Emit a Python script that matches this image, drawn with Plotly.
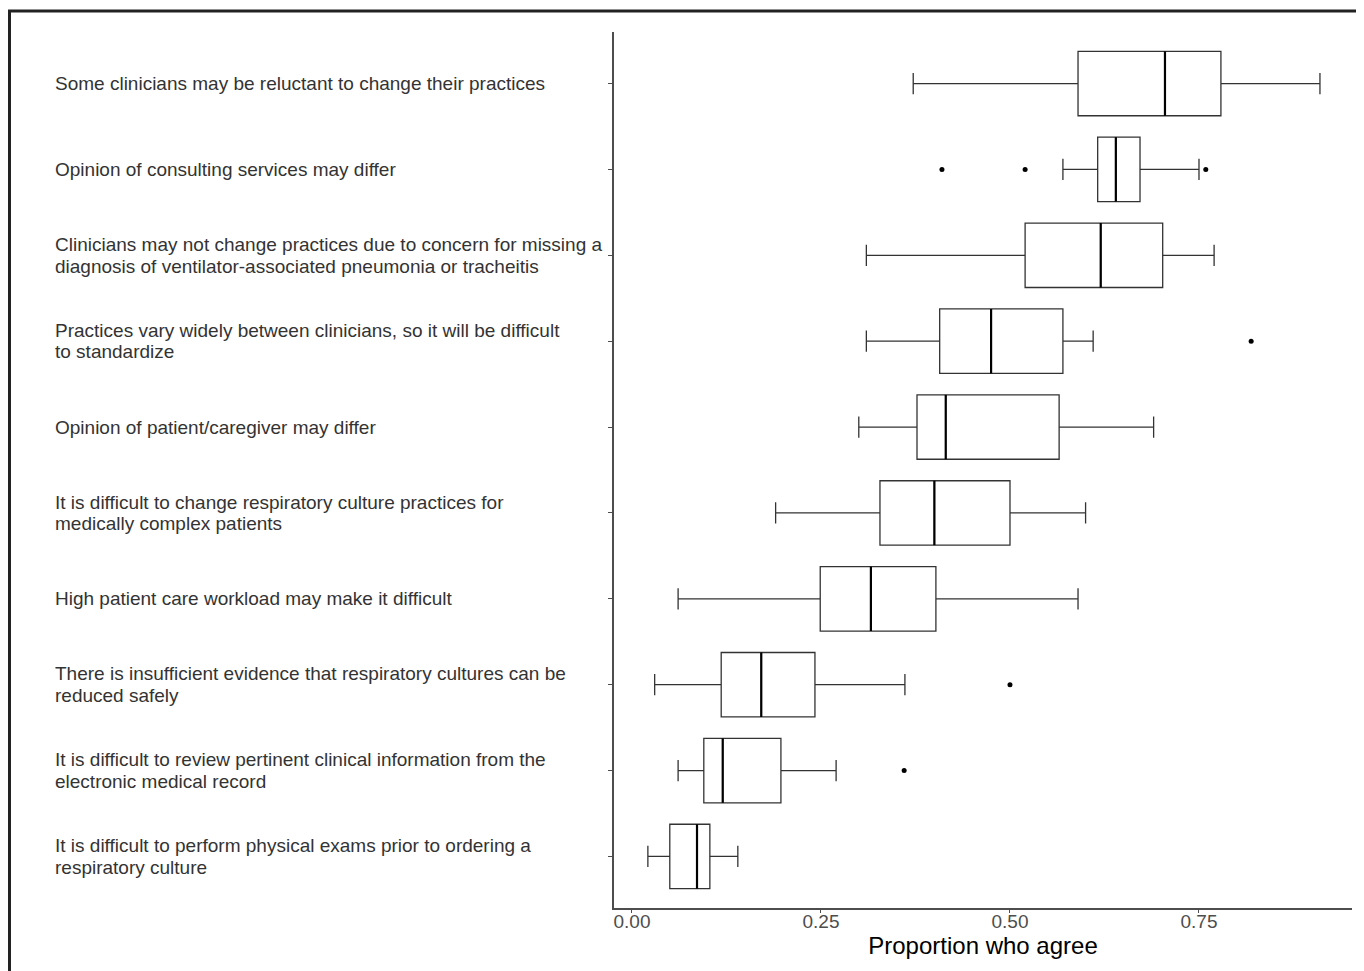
import plotly.graph_objects as go

categories = [
    "Some clinicians may be reluctant to change their practices",
    "Opinion of consulting services may differ",
    "Clinicians may not change practices due to concern for missing a<br>diagnosis of ventilator-associated pneumonia or tracheitis",
    "Practices vary widely between clinicians, so it will be difficult<br>to standardize",
    "Opinion of patient/caregiver may differ",
    "It is difficult to change respiratory culture practices for<br>medically complex patients",
    "High patient care workload may make it difficult",
    "There is insufficient evidence that respiratory cultures can be<br>reduced safely",
    "It is difficult to review pertinent clinical information from the<br>electronic medical record",
    "It is difficult to perform physical exams prior to ordering a<br>respiratory culture",
]
lower_whisker = [0.372, 0.570, 0.310, 0.310, 0.300, 0.190, 0.061, 0.030, 0.061, 0.021]
q1_vals       = [0.590, 0.616, 0.520, 0.407, 0.377, 0.328, 0.249, 0.118, 0.095, 0.050]
median_vals   = [0.705, 0.640, 0.620, 0.475, 0.415, 0.400, 0.316, 0.171, 0.120, 0.086]
q3_vals       = [0.779, 0.672, 0.702, 0.570, 0.565, 0.500, 0.402, 0.242, 0.197, 0.103]
upper_whisker = [0.910, 0.750, 0.770, 0.610, 0.690, 0.600, 0.590, 0.361, 0.270, 0.140]
outlier_row   = [1, 1, 1, 3, 7, 8]
outlier_vals  = [0.410, 0.520, 0.759, 0.819, 0.500, 0.360]
x_ticks = [0.0, 0.25, 0.5, 0.75]
x_tick_labels = ["0.00", "0.25", "0.50", "0.75"]

pos = list(range(len(categories)))
BOX_W = 0.75
AX = "#4d4d4d"
FONT = "Liberation Sans, Arial, sans-serif"

fig = go.Figure()
fig.add_trace(go.Box(
    y=pos, q1=q1_vals, median=median_vals, q3=q3_vals,
    lowerfence=lower_whisker, upperfence=upper_whisker,
    orientation="h", width=BOX_W, whiskerwidth=0.33,
    fillcolor="white", line=dict(color="#333333", width=1.3),
    boxpoints=False, showlegend=False, hoverinfo="skip",
))

# thicker median lines
mx, my = [], []
for p, m in zip(pos, median_vals):
    mx += [m, m, None]
    my += [p - BOX_W / 2, p + BOX_W / 2, None]
fig.add_trace(go.Scatter(x=mx, y=my, mode="lines",
                         line=dict(color="black", width=2.2),
                         showlegend=False, hoverinfo="skip"))

fig.add_trace(go.Scatter(x=outlier_vals, y=outlier_row, mode="markers",
                         marker=dict(color="black", size=5),
                         showlegend=False, hoverinfo="skip"))

# page body has an 8px margin -> work in figure coords = screen - 8
OFF = 8
W, H = 1364 - OFF, 971 - OFF
L, T = 614 - OFF, 32 - OFF
R = W - (1352 - OFF)
B = H - (908 - OFF)
pw, ph = W - L - R, H - T - B

LINE_GAP = 21.5
for p, c in zip(pos, categories):
    lines = c.split("<br>")
    n = len(lines)
    for k, ln in enumerate(lines):
        shift = ((n - 1) / 2 - k) * LINE_GAP
        fig.add_annotation(x=(53 - OFF - L) / pw, xref="paper", y=p, yref="y",
                           text=ln, showarrow=False, xanchor="left",
                           yanchor="middle", align="left", yshift=shift,
                           font=dict(family=FONT, size=19, color="#333333"))

top_y = (H - B - (11 - OFF)) / ph
left_x = (9.5 - OFF - L) / pw
fig.add_shape(type="line", xref="paper", yref="paper",
              x0=left_x - 0.002, x1=(W - L) / pw, y0=top_y, y1=top_y,
              line=dict(color="#222222", width=3))
fig.add_shape(type="line", xref="paper", yref="paper",
              x0=left_x, x1=left_x, y0=top_y, y1=-B / ph,
              line=dict(color="#222222", width=3))

fig.update_layout(
    width=W, height=H,
    margin=dict(l=L, r=R, t=T, b=B),
    plot_bgcolor="white", paper_bgcolor="white",
    font=dict(family=FONT),
)
fig.update_xaxes(range=[-0.0238, 0.9524], tickvals=x_ticks, ticktext=x_tick_labels,
                 showgrid=False, zeroline=False, showline=True, linecolor=AX,
                 linewidth=1.5, ticks="outside", ticklen=3, tickcolor=AX,
                 ticklabelstandoff=-8,
                 tickfont=dict(size=19, color="#4d4d4d"),
                 title=dict(text="Proportion who agree",
                            font=dict(size=24, color="black"), standoff=0))
fig.update_yaxes(range=[9.6, -0.6], tickvals=pos, showticklabels=False,
                 showgrid=False, zeroline=False, showline=True, linecolor=AX,
                 linewidth=1.5, ticks="outside", ticklen=4, tickcolor=AX)

fig.write_html("out.html")
